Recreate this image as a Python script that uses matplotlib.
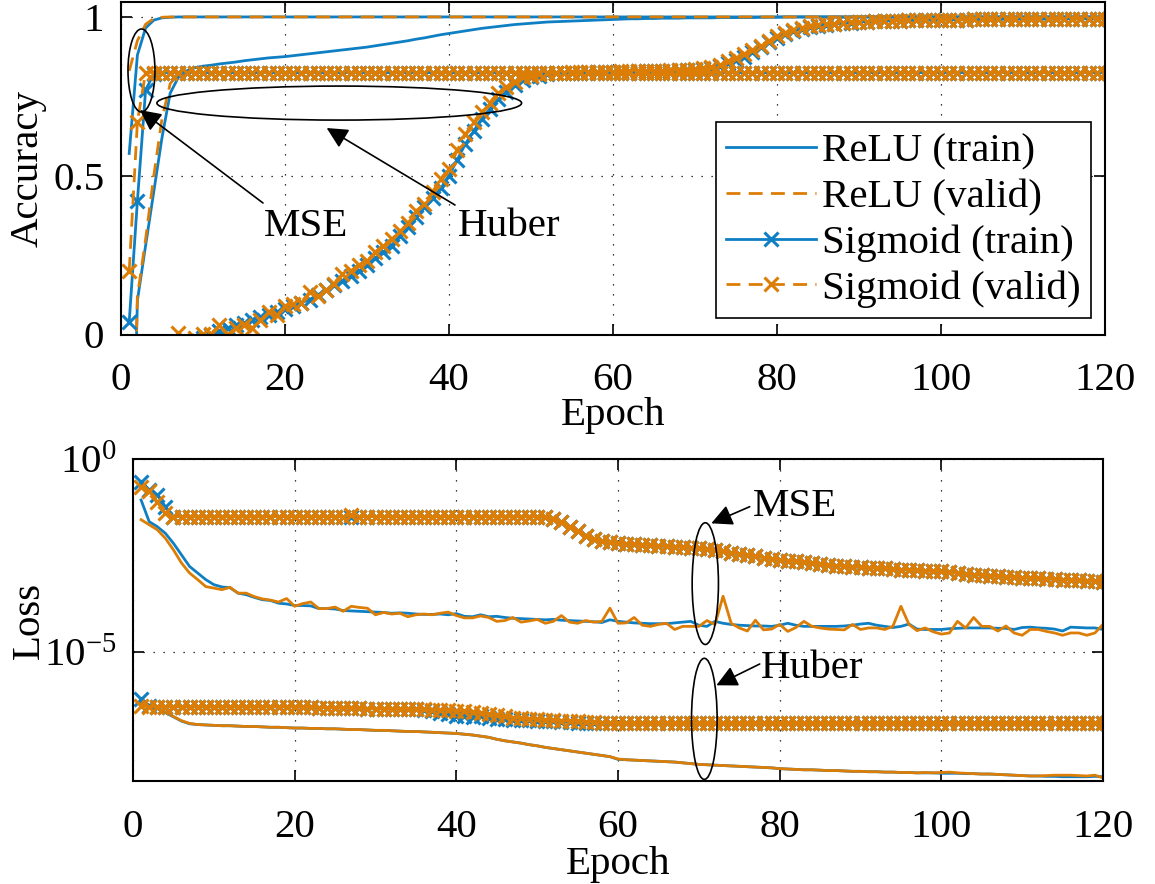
import numpy as np
import matplotlib.pyplot as plt
from matplotlib.patches import Ellipse

plt.rcParams['font.family'] = ['Liberation Serif', 'DejaVu Serif']
plt.rcParams['mathtext.fontset'] = 'custom'
plt.rcParams['mathtext.rm'] = 'Liberation Serif'
plt.rcParams['mathtext.it'] = 'Liberation Serif:italic'
plt.rcParams['font.size'] = 29.5

BLUE = '#0f7fc4'
ORANGE = '#dc7d06'

epochs = np.arange(1, 121)

# ---------------- accuracy (top) ----------------
relu_mse_train_acc = [0.57, 0.88, 0.965, 0.99, 0.997, 0.999] + [1.0] * 114
relu_mse_valid_acc = [0.83, 0.925, 0.977, 0.995, 0.999] + [1.0] * 115
relu_huber_train_acc = [
    -0.95, 0.107, 0.28, 0.45, 0.62, 0.76, 0.81, 0.83, 0.84, 0.845,
    0.848, 0.852, 0.855, 0.858, 0.862, 0.865, 0.868, 0.871, 0.873, 0.875,
    0.878, 0.881, 0.884, 0.887, 0.89, 0.893, 0.896, 0.899, 0.902, 0.905,
    0.909, 0.913, 0.917, 0.921, 0.925, 0.93, 0.934, 0.939, 0.944, 0.948,
    0.952, 0.956, 0.96, 0.964, 0.967, 0.97, 0.973, 0.976, 0.978, 0.98,
    0.982, 0.984, 0.985, 0.986, 0.987, 0.988, 0.989, 0.99, 0.991, 0.992,
    0.993, 0.994, 0.994, 0.995, 0.995, 0.996, 0.996, 0.996, 0.997, 0.997,
    0.997, 0.997, 0.998, 0.998, 0.998, 0.998, 0.998, 0.999, 0.999, 0.999,
] + [1.0] * 40
relu_huber_valid_acc = [-0.9, 0.12, 0.3, 0.5, 0.68, 0.79, 0.82] + [0.825] * 113
sig_mse_train_acc = [0.04, 0.42, 0.77, 0.82] + [0.825] * 116
sig_mse_valid_acc = [0.2, 0.67, 0.825] + [0.825] * 117
sig_huber_train_acc = [
    -0.3, -0.25, -0.2, -0.16, -0.12, -0.09, -0.06, -0.04, -0.02, -0.01,
    -0.003, 0.01, 0.02, 0.03, 0.035, 0.045, 0.055, 0.06, 0.07, 0.08,
    0.09, 0.1, 0.11, 0.125, 0.14, 0.155, 0.17, 0.185, 0.2, 0.22,
    0.24, 0.26, 0.28, 0.31, 0.34, 0.37, 0.4, 0.43, 0.46, 0.5,
    0.55, 0.6, 0.64, 0.68, 0.71, 0.74, 0.765, 0.785, 0.8, 0.81,
    0.815, 0.82, 0.822, 0.823, 0.824, 0.825, 0.826, 0.826, 0.827, 0.827,
    0.828, 0.828, 0.829, 0.829, 0.83, 0.83, 0.831, 0.832, 0.833, 0.834,
    0.835, 0.84, 0.845, 0.855, 0.865, 0.875, 0.89, 0.905, 0.92, 0.935,
    0.945, 0.955, 0.962, 0.968, 0.972, 0.975, 0.978, 0.98, 0.982, 0.984,
    0.985, 0.986, 0.987, 0.988, 0.988, 0.989, 0.989, 0.99, 0.99, 0.99,
    0.991, 0.991, 0.991, 0.992, 0.992, 0.992, 0.992, 0.993, 0.993, 0.993,
    0.993, 0.993, 0.993, 0.994, 0.994, 0.994, 0.994, 0.994, 0.994, 0.994,
]
sig_huber_valid_acc = [
    -0.25, -0.2, -0.15, -0.1, -0.06, -0.03, 0.005, -0.02, -0.01, 0.003,
    0.002, 0.03, 0.0, 0.02, 0.03, 0.02, 0.045, 0.07, 0.06, 0.09,
    0.095, 0.1, 0.135, 0.12, 0.14, 0.16, 0.19, 0.2, 0.22, 0.23,
    0.26, 0.28, 0.3, 0.325, 0.35, 0.39, 0.41, 0.45, 0.49, 0.52,
    0.58, 0.63, 0.67, 0.7, 0.73, 0.76, 0.78, 0.795, 0.81, 0.815,
    0.82, 0.822, 0.823, 0.825, 0.826, 0.826, 0.827, 0.827, 0.828, 0.828,
    0.829, 0.829, 0.83, 0.83, 0.831, 0.831, 0.832, 0.833, 0.834, 0.836,
    0.838, 0.842, 0.85, 0.86, 0.87, 0.882, 0.895, 0.91, 0.925, 0.94,
    0.95, 0.958, 0.965, 0.97, 0.974, 0.977, 0.979, 0.981, 0.983, 0.984,
    0.985, 0.986, 0.987, 0.988, 0.988, 0.989, 0.989, 0.99, 0.99, 0.99,
    0.991, 0.991, 0.991, 0.992, 0.992, 0.992, 0.992, 0.993, 0.993, 0.993,
    0.993, 0.993, 0.993, 0.994, 0.994, 0.994, 0.994, 0.994, 0.994, 0.994,
]

# ---------------- loss (bottom), log10 values ----------------
relu_mse_train_loss = [
    -1.06, -1.62, -1.75, -1.92, -2.18, -2.48, -2.78, -2.95, -3.12, -3.25,
    -3.31, -3.33, -3.47, -3.51, -3.58, -3.64, -3.66, -3.73, -3.75, -3.79,
    -3.79, -3.8, -3.87, -3.87, -3.88, -3.92, -3.93, -3.94, -3.95, -3.96,
    -3.97, -3.99, -3.98, -3.99, -4.01, -4.02, -4.02, -4.01, -4.03, -4.0,
    -4.07, -4.08, -4.03, -4.08, -4.07, -4.1, -4.12, -4.13, -4.14, -4.15,
    -4.16, -4.15, -4.17, -4.18, -4.19, -4.2, -4.21, -4.23, -4.16, -4.2,
    -4.22, -4.24, -4.25, -4.26, -4.26, -4.26, -4.24, -4.22, -4.2, -4.3,
    -4.33, -4.2, -4.25, -4.28, -4.3, -4.31, -4.32, -4.32, -4.33, -4.3,
    -4.25, -4.3, -4.33, -4.33, -4.33, -4.33, -4.33, -4.32, -4.3, -4.27,
    -4.25, -4.3, -4.33, -4.36, -4.33, -4.27, -4.4, -4.41, -4.41, -4.41,
    -4.39, -4.38, -4.37, -4.37, -4.37, -4.37, -4.38, -4.38, -4.41, -4.36,
    -4.35, -4.37, -4.38, -4.4, -4.45, -4.35, -4.36, -4.37, -4.37, -4.41,
]
relu_mse_valid_loss = [
    -1.57, -1.7, -1.83, -2.05, -2.35, -2.69, -2.95, -3.12, -3.3, -3.34,
    -3.38, -3.32, -3.47, -3.47, -3.56, -3.62, -3.65, -3.7, -3.61, -3.81,
    -3.74, -3.7, -3.87, -3.87, -3.83, -3.94, -3.81, -3.84, -3.86, -4.03,
    -3.97, -4.01, -3.99, -4.08, -4.03, -4.01, -4.03, -3.99, -3.96, -4.05,
    -4.11, -4.11, -4.06, -4.1, -4.2, -4.18, -4.1, -4.22, -4.19, -4.15,
    -4.25, -4.2, -4.05, -4.22, -4.25, -4.18, -4.22, -4.2, -3.86, -4.25,
    -4.24, -4.1, -4.3, -4.33, -4.28, -4.25, -4.41, -4.33, -4.33, -4.33,
    -4.18, -4.28, -3.55, -4.25, -4.37, -4.45, -4.17, -4.42, -4.4, -4.28,
    -4.46, -4.36, -4.2, -4.33, -4.37, -4.4, -4.41, -4.42, -4.28, -4.41,
    -4.37, -4.37, -4.41, -4.33, -3.81, -4.28, -4.44, -4.37, -4.47, -4.53,
    -4.5, -4.2, -4.37, -4.1, -4.33, -4.33, -4.45, -4.32, -4.5, -4.56,
    -4.41, -4.41, -4.46, -4.5, -4.56, -4.5, -4.5, -4.56, -4.5, -4.28,
]
sig_mse_train_loss = [
    -0.585, -0.8, -0.93, -1.23, -1.49] + [-1.49] * 45 + [
    -1.51, -1.55, -1.62, -1.75, -1.87, -1.98, -2.06, -2.13, -2.16, -2.18,
    -2.2, -2.21, -2.22, -2.23, -2.25, -2.26, -2.27, -2.28, -2.29, -2.31,
    -2.33, -2.36, -2.39, -2.42, -2.45, -2.48, -2.51, -2.55, -2.58, -2.61,
    -2.63, -2.65, -2.67, -2.69, -2.72, -2.74, -2.76, -2.77, -2.79, -2.8,
    -2.81, -2.82, -2.83, -2.85, -2.86, -2.87, -2.88, -2.89, -2.9, -2.91,
    -2.93, -2.95, -2.97, -2.99, -3.0, -3.02, -3.03, -3.04, -3.06, -3.07,
    -3.08, -3.09, -3.1, -3.11, -3.12, -3.13, -3.14, -3.15, -3.16, -3.17,
]
sig_mse_valid_loss = [
    -0.715, -0.84, -1.1, -1.4, -1.49] + [-1.49] * 21 + [-1.45] + [-1.49] * 23 + [
    -1.51, -1.55, -1.62, -1.75, -1.87, -1.98, -2.06, -2.13, -2.16, -2.18,
    -2.2, -2.21, -2.22, -2.23, -2.25, -2.26, -2.27, -2.28, -2.29, -2.31,
    -2.33, -2.36, -2.39, -2.42, -2.45, -2.48, -2.51, -2.55, -2.58, -2.61,
    -2.63, -2.65, -2.67, -2.69, -2.72, -2.74, -2.76, -2.77, -2.79, -2.8,
    -2.81, -2.82, -2.83, -2.85, -2.86, -2.87, -2.88, -2.89, -2.9, -2.91,
    -2.93, -2.95, -2.97, -2.99, -3.0, -3.02, -3.03, -3.04, -3.06, -3.07,
    -3.08, -3.09, -3.1, -3.11, -3.12, -3.13, -3.14, -3.15, -3.16, -3.17,
]
relu_huber_train_loss = [
    -6.32, -6.38, -6.46, -6.56, -6.67, -6.78, -6.85, -6.87, -6.88, -6.89,
    -6.9, -6.9, -6.91, -6.92, -6.92, -6.93, -6.94, -6.94, -6.95, -6.96,
    -6.96, -6.97, -6.97, -6.98, -6.98, -6.99, -7.0, -7.0, -7.01, -7.02,
    -7.02, -7.03, -7.04, -7.05, -7.05, -7.06, -7.07, -7.08, -7.09, -7.1,
    -7.12, -7.14, -7.17, -7.2, -7.25, -7.29, -7.32, -7.35, -7.39, -7.42,
    -7.46, -7.49, -7.52, -7.55, -7.58, -7.61, -7.64, -7.67, -7.7, -7.77,
    -7.78, -7.79, -7.8, -7.81, -7.82, -7.83, -7.84, -7.86, -7.88, -7.9,
    -7.91, -7.92, -7.93, -7.94, -7.95, -7.96, -7.97, -7.98, -7.99, -8.01,
    -8.02, -8.03, -8.04, -8.04, -8.05, -8.06, -8.06, -8.07, -8.08, -8.08,
    -8.09, -8.09, -8.1, -8.1, -8.11, -8.11, -8.12, -8.12, -8.12, -8.13,
    -8.13, -8.13, -8.14, -8.14, -8.15, -8.15, -8.16, -8.17, -8.18, -8.19,
    -8.2, -8.2, -8.21, -8.21, -8.22, -8.22, -8.22, -8.22, -8.21, -8.22,
]
relu_huber_valid_loss = [
    -6.3, -6.36, -6.44, -6.54, -6.66, -6.77, -6.84, -6.87, -6.88, -6.89,
    -6.9, -6.9, -6.91, -6.92, -6.92, -6.93, -6.94, -6.94, -6.95, -6.96,
    -6.96, -6.97, -6.97, -6.98, -6.98, -6.99, -7.0, -7.0, -7.01, -7.02,
    -7.02, -7.03, -7.04, -7.05, -7.05, -7.06, -7.07, -7.08, -7.09, -7.1,
    -7.12, -7.14, -7.17, -7.2, -7.25, -7.29, -7.32, -7.35, -7.39, -7.42,
    -7.46, -7.49, -7.52, -7.55, -7.58, -7.61, -7.64, -7.67, -7.7, -7.76,
    -7.78, -7.79, -7.8, -7.81, -7.82, -7.83, -7.84, -7.86, -7.88, -7.9,
    -7.91, -7.92, -7.93, -7.94, -7.95, -7.96, -7.97, -7.98, -7.99, -8.01,
    -8.02, -8.03, -8.04, -8.04, -8.05, -8.06, -8.06, -8.07, -8.08, -8.08,
    -8.09, -8.09, -8.1, -8.1, -8.11, -8.11, -8.12, -8.11, -8.12, -8.11,
    -8.1, -8.12, -8.13, -8.14, -8.15, -8.15, -8.16, -8.17, -8.18, -8.19,
    -8.2, -8.2, -8.19, -8.18, -8.18, -8.18, -8.19, -8.2, -8.18, -8.25,
]
sig_huber_train_loss = [
    -6.22, -6.4] + [-6.41] * 18 + [
    -6.42, -6.42, -6.43, -6.43, -6.44, -6.44, -6.45, -6.45, -6.46, -6.46,
    -6.46, -6.47, -6.47, -6.48, -6.48, -6.5, -6.52, -6.56, -6.6, -6.64,
    -6.66, -6.68, -6.65, -6.7, -6.72, -6.73, -6.74, -6.75, -6.76, -6.77,
    -6.78, -6.79, -6.8, -6.81, -6.82, -6.83, -6.83, -6.84, -6.84, -6.84,
] + [-6.84] * 60
sig_huber_valid_loss = [
    -6.39, -6.41] + [-6.41] * 18 + [
    -6.42, -6.42, -6.43, -6.43, -6.44, -6.44, -6.45, -6.45, -6.46, -6.46,
    -6.46, -6.47, -6.47, -6.48, -6.48, -6.48, -6.49, -6.5, -6.5, -6.51,
    -6.53, -6.55, -6.57, -6.6, -6.63, -6.66, -6.69, -6.71, -6.72, -6.73,
    -6.75, -6.76, -6.77, -6.78, -6.79, -6.8, -6.81, -6.82, -6.83, -6.84,
] + [-6.84] * 60

fig = plt.figure(figsize=(11.55, 8.84), dpi=100)
ax1 = fig.add_axes([121 / 1155, 1 - 334.5 / 884, 984 / 1155, 332.5 / 884])
ax2 = fig.add_axes([133 / 1155, 1 - 781 / 884, 970 / 1155, 322 / 884])

lw = 2.0
mk = dict(marker='x', markersize=10, markeredgewidth=2.2)
dash = (5, 3)

# top panel
ax1.plot(epochs, relu_mse_train_acc, color=BLUE, lw=lw, label='ReLU (train)')
ax1.plot(epochs, relu_huber_train_acc, color=BLUE, lw=lw)
ax1.plot(epochs, relu_mse_valid_acc, color=ORANGE, lw=lw, dashes=dash, label='ReLU (valid)')
ax1.plot(epochs, relu_huber_valid_acc, color=ORANGE, lw=lw, dashes=dash)
ax1.plot(epochs, sig_mse_train_acc, color=BLUE, lw=lw, label='Sigmoid (train)', **mk)
ax1.plot(epochs, sig_huber_train_acc, color=BLUE, lw=lw, **mk)
ax1.plot(epochs, sig_mse_valid_acc, color=ORANGE, lw=lw, dashes=dash, label='Sigmoid (valid)', **mk)
ax1.plot(epochs, sig_huber_valid_acc, color=ORANGE, lw=lw, dashes=dash, **mk)

ax1.set_xlim(0, 120)
ax1.set_ylim(0, 1.047)
ax1.set_xticks(np.arange(0, 121, 20))
ax1.set_yticks([0, 0.5, 1])
ax1.set_yticklabels(['0', '0.5', '1'])
ax1.set_xlabel('Epoch', labelpad=-2)
ax1.set_ylabel('Accuracy')
ax1.yaxis.set_label_coords(-0.0752, 0.5)

leg = ax1.legend(loc='lower right', bbox_to_anchor=(0.9858, 0.0496), borderaxespad=0,
                 numpoints=1, handlelength=2.2, handletextpad=0.15, labelspacing=0.2,
                 fancybox=False, framealpha=1, edgecolor='k', borderpad=0.25)
leg.get_frame().set_linewidth(1.2)

# annotations on top panel (axes fraction coordinates)
ax1.add_patch(Ellipse((0.0208, 0.794), 0.0274, 0.2496, transform=ax1.transAxes,
                      fill=False, ec='k', lw=1.2, zorder=5))
ax1.add_patch(Ellipse((0.2218, 0.696), 0.3706, 0.1023, transform=ax1.transAxes,
                      fill=False, ec='k', lw=1.2, zorder=5))
arrow = dict(arrowstyle='-|>', mutation_scale=32, lw=1.2, color='k', shrinkA=0, shrinkB=0)
ax1.annotate('', xy=(0.0193, 0.675), xytext=(0.1443, 0.3955), xycoords='axes fraction',
             textcoords='axes fraction', arrowprops=arrow)
ax1.annotate('', xy=(0.209, 0.621), xytext=(0.3394, 0.3895), xycoords='axes fraction',
             textcoords='axes fraction', arrowprops=arrow)
ax1.text(0.188, 0.326, 'MSE', transform=ax1.transAxes, ha='center', va='center')
ax1.text(0.3948, 0.326, 'Huber', transform=ax1.transAxes, ha='center', va='center')

# bottom panel
ax2.plot(epochs, 10 ** np.array(relu_mse_train_loss), color=BLUE, lw=lw)
ax2.plot(epochs, 10 ** np.array(relu_huber_train_loss), color=BLUE, lw=lw)
ax2.plot(epochs, 10 ** np.array(relu_mse_valid_loss), color=ORANGE, lw=lw)
ax2.plot(epochs, 10 ** np.array(relu_huber_valid_loss), color=ORANGE, lw=lw)
ax2.plot(epochs, 10 ** np.array(sig_mse_train_loss), color=BLUE, lw=lw, **mk)
ax2.plot(epochs, 10 ** np.array(sig_huber_train_loss), color=BLUE, lw=lw, **mk)
ax2.plot(epochs, 10 ** np.array(sig_mse_valid_loss), color=ORANGE, lw=lw, **mk)
ax2.plot(epochs, 10 ** np.array(sig_huber_valid_loss), color=ORANGE, lw=lw, **mk)

ax2.set_yscale('log')
ax2.set_xlim(0, 120)
ax2.set_ylim(10 ** -8.33, 1)
ax2.set_xticks(np.arange(0, 121, 20))
ax2.set_yticks([1e-5, 1e0])
ax2.set_yticklabels([r'$10^{-5}$', r'$10^{0}$'])
ax2.minorticks_off()
ax2.set_xlabel('Epoch', labelpad=0)
ax2.set_ylabel('Loss')
ax2.yaxis.set_label_coords(-0.0876, 0.5)

ax2.add_patch(Ellipse((0.590, 0.613), 0.0271, 0.378, transform=ax2.transAxes,
                      fill=False, ec='k', lw=1.2, zorder=5))
ax2.add_patch(Ellipse((0.589, 0.193), 0.0264, 0.376, transform=ax2.transAxes,
                      fill=False, ec='k', lw=1.2, zorder=5))
ax2.annotate('', xy=(0.5962, 0.8002), xytext=(0.6358, 0.8519), xycoords='axes fraction',
             textcoords='axes fraction', arrowprops=arrow)
ax2.annotate('', xy=(0.6014, 0.2972), xytext=(0.6461, 0.3634), xycoords='axes fraction',
             textcoords='axes fraction', arrowprops=arrow)
ax2.text(0.6821, 0.8525, 'MSE', transform=ax2.transAxes, ha='center', va='center')
ax2.text(0.6997, 0.3509, 'Huber', transform=ax2.transAxes, ha='center', va='center')

for ax in (ax1, ax2):
    ax.grid(True, which='major', linestyle=(0, (1, 7)), color='k', lw=0.9)
    ax.tick_params(direction='in', length=8, width=1.2, top=True, right=True)
    ax.tick_params(axis='y', pad=12)
    ax.tick_params(axis='x', pad=20)
    for s in ax.spines.values():
        s.set_linewidth(1.5)

fig.savefig('out.png', dpi=100)
